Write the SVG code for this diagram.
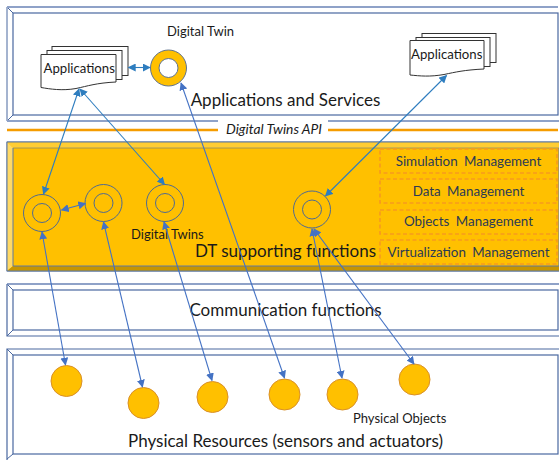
<svg xmlns="http://www.w3.org/2000/svg" width="559" height="460" viewBox="0 0 559 460">
<style>
text{font-family:Lato,"Liberation Sans",sans-serif;fill:#1a1a1a}
.lay{fill:#fff;stroke:#4a68a0;stroke-width:1.2}
.bev{fill:none;stroke:#4a68a0;stroke-width:1}
.top{stroke:#8fa2c8;stroke-width:2;fill:none}
.doc{fill:#fff;stroke:#333;stroke-width:1}
.ring{fill:none;stroke:#4f6a92;stroke-width:1}
.obj{fill:#ffc000;stroke:#d9902a;stroke-width:1}
.mg{fill:#ffc000;stroke:#f79a1e;stroke-width:1.6;stroke-dasharray:4 2.5}
.mt{font-size:13.4px;fill:#2b3a55;text-anchor:middle;word-spacing:3px}
.big{font-size:17px;text-anchor:middle}
.sm{font-size:13px}
.c1{stroke:#2e7dbf;stroke-width:1.1;fill:none;marker-start:url(#a1);marker-end:url(#a1)}
.c2{stroke:#4472c4;stroke-width:1.1;fill:none;marker-start:url(#a2);marker-end:url(#a2)}
</style>
<defs>
<marker id="a1" viewBox="0 0 10 10" refX="9" refY="5" markerWidth="8" markerHeight="8" markerUnits="userSpaceOnUse" orient="auto-start-reverse"><path d="M0 0L10 5L0 10Z" fill="#2e7dbf"/></marker>
<marker id="a2" viewBox="0 0 10 10" refX="9" refY="5" markerWidth="8" markerHeight="8" markerUnits="userSpaceOnUse" orient="auto-start-reverse"><path d="M0 0L10 5L0 10Z" fill="#4472c4"/></marker>
</defs>
<rect width="559" height="460" fill="#fff"/>

<g id="layer-applications">
<path class="bev" d="M7 7L13 13M7 121L13 115M7 7V121H218"/>
<path class="top" d="M7 7H558"/>
<path class="top" d="M7 121H218M328 121H559"/>
<rect class="lay" x="13" y="13" width="545" height="102"/>
<text class="big" x="285.500" y="106">Applications and Services</text>
</g>

<g id="api">
<path d="M7 130H218M328 130H558" stroke="#f59c00" stroke-width="2.4" fill="none"/>
<text x="274" y="134" font-size="13.800" font-style="italic" text-anchor="middle">Digital Twins API</text>
</g>

<g id="layer-dt">
<rect x="7" y="142" width="552" height="129" fill="#ffc000" stroke="#5f78a0" stroke-width="1"/>
<path d="M7 142H559V148H13L7 142Z" fill="#ffcd33"/>
<path d="M7 142L13 148V266L7 271Z" fill="#ffd966"/>
<path d="M7 271L13 266H559V271Z" fill="#c69500"/>
<path d="M7 142H559M7 142V271H559M13 148V266H559" fill="none" stroke="#5f78a0" stroke-width="1"/>
<path d="M13 148H559" stroke="#8a8a6a" stroke-width=".8"/>
<text class="big" x="285.500" y="257">DT supporting functions</text>
<rect class="mg" x="380" y="149" width="177" height="24"/>
<rect class="mg" x="380" y="179" width="177" height="24"/>
<rect class="mg" x="380" y="210" width="177" height="24"/>
<rect class="mg" x="380" y="240" width="177" height="24"/>
<text class="mt" x="468.500" y="166">Simulation Management</text>
<text class="mt" x="468.500" y="196">Data Management</text>
<text class="mt" x="468.500" y="226">Objects Management</text>
<text class="mt" x="468.500" y="257">Virtualization Management</text>
</g>

<g id="layer-communication">
<path class="bev" d="M7 284L13 290M7 336L13 330"/>
<path class="top" d="M7 284H559" stroke-width="1.5"/>
<path d="M7 284V336H559" fill="none" stroke="#4a68a0" stroke-width="1.2"/>
<rect class="lay" x="13" y="290" width="545" height="40"/>
<text class="big" x="285.500" y="316">Communication functions</text>
</g>

<g id="layer-physical">
<path class="bev" d="M7 349L13 355M7 459L13 454"/>
<path d="M7 460V349H559" fill="none" stroke="#4a68a0" stroke-width="1.2"/>
<rect class="lay" x="13" y="355" width="545" height="99"/>
<text class="big" x="285.500" y="447">Physical Resources (sensors and actuators)</text>
</g>

<g id="apps-left">
<rect class="doc" x="52" y="46.500" width="76" height="29"/>
<rect class="doc" x="47" y="50.500" width="75" height="29"/>
<path class="doc" d="M41 54.500H116V82C96 83 88 86 76 88.500C62 91 50 89 41 87.500Z"/>
<text x="43.500" y="73" font-size="13.200">Applications</text>
</g>
<g id="apps-right">
<rect class="doc" x="422" y="33.500" width="74" height="29"/>
<rect class="doc" x="416" y="37.500" width="74" height="29"/>
<path class="doc" d="M410 40.500H484V69C464 70 456 72 444 74.500C430 77 420 76 410 75Z"/>
<text x="411" y="59" font-size="13.200">Applications</text>
</g>

<g id="twin-top">
<circle cx="168.500" cy="68" r="18" fill="#ffc000" stroke="#5f7390" stroke-width="1"/>
<circle cx="168.500" cy="68" r="9.500" fill="#fff" stroke="#5f7390" stroke-width="1"/>
<text class="sm" x="167" y="36">Digital Twin</text>
</g>
<g id="twin-1"><circle class="ring" cx="42" cy="213" r="18.500"/><circle class="ring" cx="42" cy="213" r="9.500"/></g>
<g id="twin-2"><circle class="ring" cx="103.500" cy="203" r="18.500"/><circle class="ring" cx="103.500" cy="203" r="9.500"/></g>
<g id="twin-3"><circle class="ring" cx="165" cy="203" r="18.500"/><circle class="ring" cx="165" cy="203" r="9.500"/>
<text class="sm" x="131" y="239">Digital Twins</text></g>
<g id="twin-4"><circle class="ring" cx="312" cy="209.500" r="18.500"/><circle class="ring" cx="312" cy="209.500" r="9.500"/></g>

<g id="obj-1"><circle class="obj" cx="66.500" cy="381" r="15.500"/></g>
<g id="obj-2"><circle class="obj" cx="143.500" cy="403" r="15.500"/></g>
<g id="obj-3"><circle class="obj" cx="212.500" cy="397" r="15.500"/></g>
<g id="obj-4"><circle class="obj" cx="284.500" cy="394.500" r="15.500"/></g>
<g id="obj-5"><circle class="obj" cx="342.500" cy="394.500" r="15.500"/></g>
<g id="obj-6"><circle class="obj" cx="414.500" cy="379.500" r="15.500"/></g>
<text class="sm" x="353" y="423">Physical Objects</text>

<g id="connectors">
<path class="c1" d="M128.500 67.500H150"/>
<path class="c1" d="M79 89L43.500 194"/>
<path class="c1" d="M80 89L164.500 184.500"/>
<path class="c1" d="M446.500 75.500L325.500 196"/>
<path class="c2" d="M61.500 210L85.500 203.500"/>
<path class="c2" d="M181 83L284.500 378"/>
<path class="c2" d="M42 232L65.500 365"/>
<path class="c2" d="M103.500 222L142.500 387"/>
<path class="c2" d="M164 222L212 380.500"/>
<path class="c2" d="M312 229L342 378"/>
<path class="c2" d="M314 229L414 364"/>
</g>
</svg>
